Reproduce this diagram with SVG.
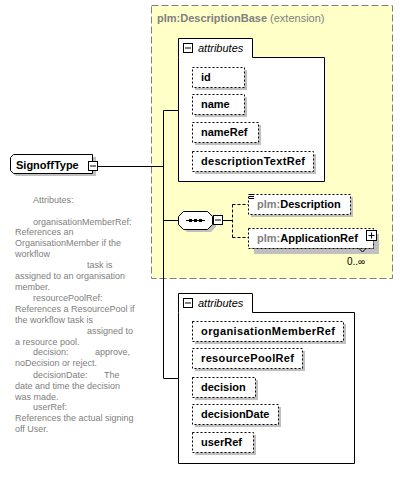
<svg xmlns="http://www.w3.org/2000/svg" width="403" height="481" viewBox="0 0 403 481">
<style>
.lbl{font-family:"Liberation Sans",Arial,sans-serif;font-size:11px;font-weight:bold;fill:#000}
.pfx{fill:#808080}
.att{fill:#fff;stroke:#000;stroke-width:1;stroke-dasharray:2,2}
.shd{fill:#c0c0c0}
.panel{fill:#fff;stroke:#000;stroke-width:1}
.tab{font-family:"Liberation Sans",Arial,sans-serif;font-size:11px;font-style:italic;fill:#000}
.ann{font-family:"Liberation Sans",Arial,sans-serif;font-size:9px;fill:#808080}
.ln{fill:none;stroke:#000;stroke-width:1}
.dln{fill:none;stroke:#000;stroke-width:1;stroke-dasharray:3,2}
.btn{fill:#fff;stroke:#000;stroke-width:1}
</style>
<rect width="403" height="481" fill="#fff"/>

<g id="extension">
<rect x="151.5" y="5.5" width="241" height="273" fill="#ffffc8" stroke="#808080" stroke-dasharray="7,3"/>
<text x="157" y="22" font-family="Liberation Sans,Arial,sans-serif" font-size="11" fill="#808080"><tspan font-weight="bold">plm:DescriptionBase</tspan> (extension)</text>
</g>

<g id="connectors">
<path class="ln" d="M98 166.5H163.5M163.5 110.5V378.5M163.5 110.5H178M163.5 220.5H178M163.5 378.5H178"/>
<path class="ln" d="M223 220.5H232"/>
<path class="dln" d="M232.5 204.5V237.5M232.5 204.5H248M232.5 237.5H248"/>
</g>

<g id="SignoffType">
<path d="M16 157H96V176H16L13 173V160Z" class="shd"/>
<path d="M13.5 154.5H92.5V173.5H13.5L10.5 170.5V157.5Z" fill="#fff" stroke="#000"/>
<text class="lbl" x="16" y="169">SignoffType</text>
<rect class="btn" x="88.5" y="161.5" width="9" height="9"/>
<path class="ln" d="M90 166H96"/>
</g>

<g id="attributes1">
<path class="panel" d="M178.5 57.5V38.5H252.5V57.5H324.5V181.5H178.5Z"/>
<rect class="btn" x="183.5" y="43.5" width="9" height="9"/>
<path class="ln" d="M185 48H191"/>
<text class="tab" x="198" y="52">attributes</text>
</g>

<g id="id"><rect class="shd" x="195" y="70" width="52" height="20"/><rect class="att" x="192.5" y="67.5" width="52" height="20"/><text class="lbl" x="201" y="81">id</text></g>
<g id="name"><rect class="shd" x="195" y="97" width="52" height="20"/><rect class="att" x="192.5" y="94.5" width="52" height="20"/><text class="lbl" x="201" y="108">name</text></g>
<g id="nameRef"><rect class="shd" x="195" y="125" width="66" height="20"/><rect class="att" x="192.5" y="122.5" width="66" height="20"/><text class="lbl" x="201" y="136">nameRef</text></g>
<g id="descriptionTextRef"><rect class="shd" x="195" y="154" width="121" height="20"/><rect class="att" x="192.5" y="151.5" width="121" height="20"/><text class="lbl" x="201" y="165" textLength="104">descriptionTextRef</text></g>

<g id="sequence">
<path class="shd" d="M187 214H211L216 219V227L211 232H187L182 227V219Z"/>
<path d="M183.5 211.5H207.5L212.5 216.5V224.5L207.5 229.5H183.5L178.5 224.5V216.5Z" fill="#fff" stroke="#000"/>
<path class="ln" d="M186 220.5H205"/>
<rect x="189" y="219" width="3" height="3" fill="#000"/>
<rect x="194" y="219" width="3" height="3" fill="#000"/>
<rect x="199" y="219" width="3" height="3" fill="#000"/>
<rect class="btn" x="213.5" y="215.5" width="9" height="9"/>
<path class="ln" d="M215 220H221"/>
</g>

<g id="Description">
<rect class="shd" x="251" y="197" width="102" height="20"/>
<rect class="att" x="248.5" y="194.5" width="102" height="20"/>
<path class="ln" d="M249 194.5H254M249 196.5H254M249 198.5H254"/>
<text class="lbl" x="257" y="208"><tspan class="pfx">plm:</tspan>Description</text>
</g>

<g id="ApplicationRef">
<rect class="shd" x="254" y="234" width="125" height="20"/>
<rect class="att" x="251.5" y="231.5" width="122" height="17" />
<rect class="att" x="248.5" y="228.5" width="125" height="20"/>
<path d="M359 248.5L362.5 252L366 248.5" fill="none" stroke="#000"/>
<text class="lbl" x="257" y="242"><tspan class="pfx">plm:</tspan>ApplicationRef</text>
<rect class="btn" x="366.5" y="230.5" width="10" height="10"/>
<path class="ln" d="M368.5 235.5H374.5M371.5 232.5V238.5"/>
<text x="347" y="265" font-family="Liberation Sans,Arial,sans-serif" font-size="10" fill="#000">0..∞</text>
</g>

<g id="attributes2">
<path class="panel" d="M178.5 312.5V293.5H252.5V312.5H354.5V463.5H178.5Z"/>
<rect class="btn" x="183.5" y="298.5" width="9" height="9"/>
<path class="ln" d="M185 303H191"/>
<text class="tab" x="198" y="307">attributes</text>
</g>

<g id="organisationMemberRef"><rect class="shd" x="195" y="324" width="151" height="20"/><rect class="att" x="192.5" y="321.5" width="151" height="20"/><text class="lbl" x="201" y="335" textLength="134">organisationMemberRef</text></g>
<g id="resourcePoolRef"><rect class="shd" x="195" y="351" width="110" height="20"/><rect class="att" x="192.5" y="348.5" width="110" height="20"/><text class="lbl" x="201" y="362" textLength="93">resourcePoolRef</text></g>
<g id="decision"><rect class="shd" x="195" y="380" width="63" height="20"/><rect class="att" x="192.5" y="377.5" width="63" height="20"/><text class="lbl" x="201" y="391">decision</text></g>
<g id="decisionDate"><rect class="shd" x="195" y="407" width="86" height="20"/><rect class="att" x="192.5" y="404.5" width="86" height="20"/><text class="lbl" x="201" y="418">decisionDate</text></g>
<g id="userRef"><rect class="shd" x="195" y="435" width="61" height="20"/><rect class="att" x="192.5" y="432.5" width="61" height="20"/><text class="lbl" x="201" y="446">userRef</text></g>

<g id="annotation" class="ann">
<text x="33" y="203">Attributes:</text>
<text x="33" y="225">organisationMemberRef:</text>
<text x="15" y="235">References an</text>
<text x="15" y="246">OrganisationMember if the</text>
<text x="15" y="257">workflow</text>
<text x="87" y="268">task is</text>
<text x="15" y="279">assigned to an organisation</text>
<text x="15" y="290">member.</text>
<text x="33" y="301">resourcePoolRef:</text>
<text x="15" y="312">References a ResourcePool if</text>
<text x="15" y="323">the workflow task is</text>
<text x="87" y="334">assigned to</text>
<text x="15" y="345">a resource pool.</text>
<text x="33" y="355">decision:</text>
<text x="95" y="355">approve,</text>
<text x="15" y="366">noDecision or reject.</text>
<text x="33" y="378">decisionDate:</text>
<text x="104" y="378">The</text>
<text x="15" y="389">date and time the decision</text>
<text x="15" y="400">was made.</text>
<text x="33" y="410">userRef:</text>
<text x="15" y="421">References the actual signing</text>
<text x="15" y="432">off User.</text>
</g>
</svg>
